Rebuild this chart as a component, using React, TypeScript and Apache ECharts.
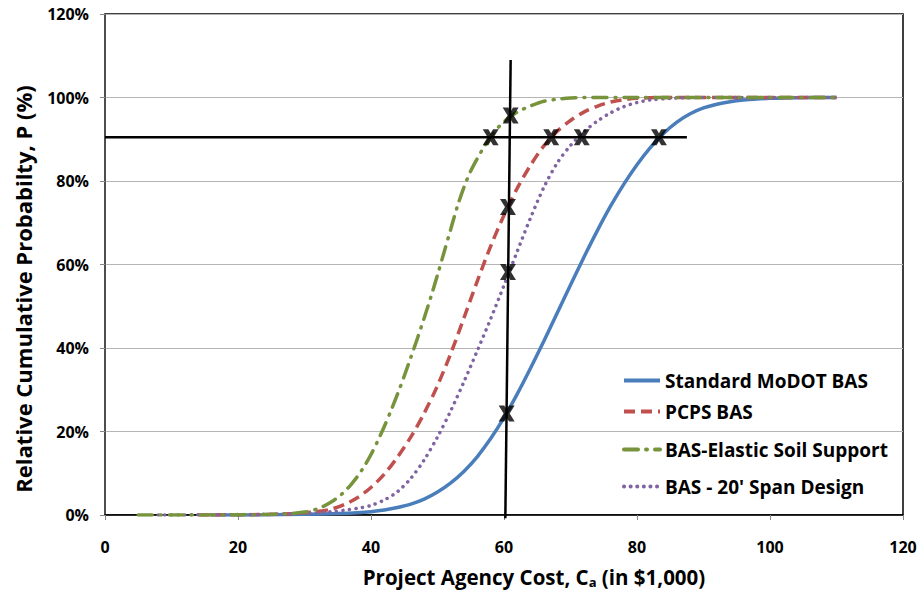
import React, { useEffect, useRef } from "react";
import * as echarts from "echarts";

// Cost (in $1,000) and relative cumulative probability (%)
const standardX = [16, 20, 25, 30, 35, 38, 40, 42, 44, 46, 48, 50, 52, 54, 56, 58, 60, 62, 64, 66, 68, 70, 72, 74, 76, 78, 80, 82, 84, 86, 88, 90, 92, 94, 96, 98, 100, 104, 110];
const standardP = [0, 0, 0.05, 0.15, 0.35, 0.55, 0.8, 1.2, 1.8, 2.6, 3.8, 5.5, 7.7, 10.5, 14, 18.3, 23.3, 29, 35.2, 41.7, 48.4, 55.1, 61.7, 68, 73.9, 79.2, 83.9, 88, 91.4, 94.1, 96.1, 97.5, 98.4, 99, 99.4, 99.65, 99.8, 99.95, 100];

const pcpsX = [14, 18, 22, 26, 30, 32, 34, 36, 38, 40, 42, 44, 46, 48, 50, 52, 54, 56, 58, 60, 62, 64, 66, 68, 70, 72, 74, 76, 78, 80, 84, 90, 100, 110];
const pcpsP = [0, 0.03, 0.08, 0.2, 0.5, 0.85, 1.4, 2.5, 4.2, 6.6, 9.8, 13.9, 18.7, 24.4, 31, 38.7, 47.3, 56.1, 64.4, 71.8, 78.3, 83.8, 88.4, 91.9, 94.5, 96.5, 97.9, 98.9, 99.5, 99.8, 100, 100, 100, 100];

const elasticX = [5, 10, 15, 20, 25, 28, 30, 31, 32, 33, 34, 35, 36, 37, 38, 39, 40, 41, 42, 43, 44, 45, 46, 47, 48, 49, 50, 51, 52, 53, 54, 55, 56, 57, 58, 59, 60, 61, 62, 63, 64, 65, 66, 68, 70, 72, 80, 90, 100, 110];
const elasticP = [0, 0, 0, 0.05, 0.15, 0.35, 0.7, 1.0, 1.5, 2.2, 3.1, 4.2, 5.6, 7.3, 9.3, 11.7, 14.5, 17.7, 21.2, 25, 29, 33.3, 37.8, 42.4, 47.2, 52.2, 57.5, 63, 68.5, 74, 78.6, 82.4, 85.4, 88.2, 90.6, 92.6, 94.2, 95.5, 96.5, 97.3, 98, 98.6, 99.1, 99.6, 99.9, 100, 100, 100, 100, 100];

const spanX = [8, 15, 20, 25, 30, 34, 36, 38, 40, 42, 44, 46, 48, 50, 52, 54, 56, 58, 60, 62, 64, 66, 68, 70, 72, 74, 76, 78, 80, 82, 85, 90, 100, 110];
const spanP = [0, 0.05, 0.1, 0.2, 0.4, 0.8, 1.15, 1.6, 2.3, 3.6, 5.6, 8.8, 13.2, 18.7, 25, 32, 39.4, 47, 55, 63.2, 71.2, 78.5, 84.3, 88.5, 91.8, 94.3, 96.3, 97.8, 98.8, 99.4, 99.8, 100, 100, 100];

// Reference lines
const hLineX = [0, 87.5];
const hLineP = [90.5, 90.5];
const vLineX = [60.2, 61.0];
const vLineP = [-0.8, 109];

// Crossing markers
const markX = [58.0, 61.0, 67.1, 71.7, 83.3, 60.6, 60.6, 60.4];
const markP = [90.5, 95.7, 90.5, 90.5, 90.5, 73.8, 58.2, 24.3];

const yTicks = [0, 20, 40, 60, 80, 100, 120];

const names = [
  "Standard MoDOT BAS",
  "PCPS BAS",
  "BAS-Elastic Soil Support",
  "BAS - 20' Span Design",
];

const xTitle = "Project Agency Cost, C{sub|a} (in $1,000)";
const yTitle = "Relative Cumulative Probabilty, P (%)";

const zip = (xs: number[], ys: number[]) => xs.map((x, i) => [x, ys[i]]);

const FONT = "'Open Sans', 'Noto Sans', sans-serif";
const X_PATH =
  "path://M0,0 L3.5,0 L5,2.5 L6.5,0 L10,0 L6.9,5 L10,10 L6.5,10 L5,7.5 L3.5,10 L0,10 L3.1,5 Z";

export default function App() {
  const ref = useRef<HTMLDivElement>(null);
  useEffect(() => {
    if (!ref.current) return;
    const chart = echarts.init(ref.current, null, { renderer: "svg" });
    const legendTops = [366, 397, 435, 472];
    chart.setOption({
      animation: false,
      backgroundColor: "#ffffff",
      grid: {
        left: 105,
        right: 18,
        top: 14,
        bottom: 75,
        show: true,
        borderColor: "#000000",
        borderWidth: 1.5,
        backgroundColor: "transparent",
      },
      graphic: [
        {
          type: "text",
          x: 534,
          y: 577,
          style: {
            text: xTitle,
            font: `bold 20.5px ${FONT}`,
            fill: "#000",
            align: "center",
            verticalAlign: "middle",
            rich: {
              sub: {
                font: `bold 13px ${FONT}`,
                fill: "#000",
                verticalAlign: "bottom",
                padding: [10, 0, 0, 0],
              },
            },
          },
        },
        {
          type: "text",
          x: 23,
          y: 289,
          rotation: Math.PI / 2,
          style: {
            text: yTitle,
            font: `bold 22px ${FONT}`,
            fill: "#000",
            align: "center",
            verticalAlign: "middle",
          },
        },
      ],
      legend: names.map((n, i) => ({
        data: [n],
        left: 617,
        top: legendTops[i],
        orient: "vertical",
        itemWidth: 36,
        itemHeight: 14,
        itemStyle: { opacity: 0 },
        lineStyle: { width: 4 },
        textStyle: {
          fontFamily: FONT,
          fontWeight: "bold",
          fontSize: 19,
          color: "#000",
        },
      })),
      xAxis: {
        type: "value",
        min: 0,
        max: 120,
        interval: 20,
        axisLine: { show: true, lineStyle: { color: "#000", width: 1.5 } },
        axisTick: { show: true, length: 5, lineStyle: { color: "#888" } },
        axisLabel: {
          fontFamily: FONT,
          fontWeight: "bold",
          fontSize: 16,
          color: "#000",
          margin: 24,
        },
        splitLine: { show: false },
      },
      yAxis: {
        type: "value",
        min: 0,
        max: 120,
        interval: 20,
        axisLine: { show: true, lineStyle: { color: "#555", width: 1.5 } },
        axisTick: { show: true, length: 5, lineStyle: { color: "#888" } },
        axisLabel: {
          fontFamily: FONT,
          fontWeight: "bold",
          fontSize: 16,
          color: "#000",
          margin: 16,
          formatter: (v: number) => (yTicks.includes(v) ? v + "%" : ""),
        },
        splitLine: { show: true, lineStyle: { color: "#b5b5b5", width: 1 } },
      },
      series: [
        {
          name: names[0],
          type: "line",
          data: zip(standardX, standardP),
          showSymbol: false,
          symbol: "none",
          smooth: 0.3,
          lineStyle: { color: "#4A7EBB", width: 3.5, type: "solid" },
          itemStyle: { color: "#4A7EBB" },
          z: 3,
        },
        {
          name: names[1],
          type: "line",
          data: zip(pcpsX, pcpsP),
          showSymbol: false,
          symbol: "none",
          smooth: 0.3,
          lineStyle: { color: "#C0504D", width: 3.5, type: [11, 6] },
          itemStyle: { color: "#C0504D" },
          z: 4,
        },
        {
          name: names[2],
          type: "line",
          data: zip(elasticX, elasticP),
          showSymbol: false,
          symbol: "none",
          smooth: 0.3,
          lineStyle: { color: "#77933C", width: 3.5, type: [14, 8, 1, 8], cap: "round" },
          itemStyle: { color: "#77933C" },
          z: 5,
        },
        {
          name: names[3],
          type: "line",
          data: zip(spanX, spanP),
          showSymbol: false,
          symbol: "none",
          smooth: 0.3,
          lineStyle: { color: "#8064A2", width: 3.5, type: [0.1, 6.5], cap: "round" },
          itemStyle: { color: "#8064A2" },
          z: 4,
        },
        {
          type: "line",
          data: zip(hLineX, hLineP),
          showSymbol: false,
          symbol: "none",
          lineStyle: { color: "#000", width: 2.5 },
          z: 6,
          clip: false,
          silent: true,
        },
        {
          type: "line",
          data: zip(vLineX, vLineP),
          showSymbol: false,
          symbol: "none",
          lineStyle: { color: "#000", width: 2.5 },
          z: 6,
          clip: false,
          silent: true,
        },
        {
          type: "scatter",
          data: zip(markX, markP),
          symbol: X_PATH,
          symbolSize: [16, 16],
          itemStyle: { color: "#000" },
          z: 7,
          silent: true,
        },
      ],
    });
    return () => chart.dispose();
  }, []);
  return (
    <div
      ref={ref}
      style={{ position: "fixed", left: 0, top: 0, width: 921, height: 590 }}
    />
  );
}
